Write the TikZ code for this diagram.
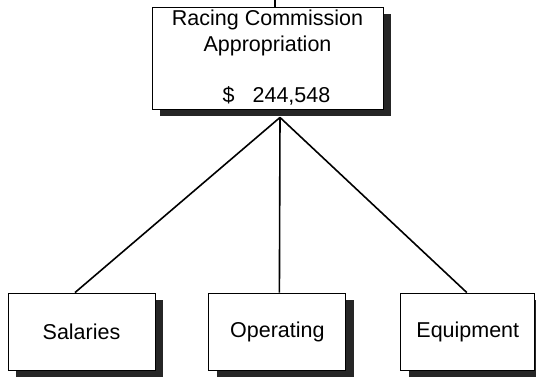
\documentclass[tikz,border=0pt]{standalone}
\usepackage{fontspec}
\setmainfont{Liberation Sans}
\usetikzlibrary{positioning, shadows}

\begin{document}
\begin{tikzpicture}[
    x=1pt, y=-1pt,
    box/.style={draw, line width=0.9pt, fill=white, inner sep=0pt, align=center,
        font=\fontsize{21.5}{26}\selectfont,
        drop shadow={shadow xshift=8pt, shadow yshift=-7pt, fill=black!85, opacity=1}},
    link/.style={line width=1.6pt}
]
\useasboundingbox (0,0) rectangle (536,376);

% Appropriation box on top
\node[box, minimum width=231pt, minimum height=102pt] (app) at (267.5,58)
    {Racing Commission\\Appropriation\\[25pt]\hspace*{18pt}\$\hspace{18pt}244,548};
\coordinate (feed) at (275,0);
\coordinate (hub) at ([xshift=12.5pt, yshift=-8pt]app.south);

% Spending categories
\node[box, minimum width=147pt, minimum height=77pt] (sal) at (81.5,331.5) {Salaries};
\node[box, minimum width=137pt, minimum height=77pt, right=53pt of sal] (ops) {Operating};
\node[box, minimum width=134pt, minimum height=77pt, right=54pt of ops] (equ) {Equipment};

% Connectors
\draw[link] (feed) -- ([xshift=7.5pt]app.north);
\draw[link] (hub) -- ([xshift=-6.5pt]sal.north);
\draw[link] (hub) -- ([xshift=2pt]ops.north);
\draw[link] (hub) -- ([xshift=-1pt]equ.north);
\end{tikzpicture}
\end{document}
